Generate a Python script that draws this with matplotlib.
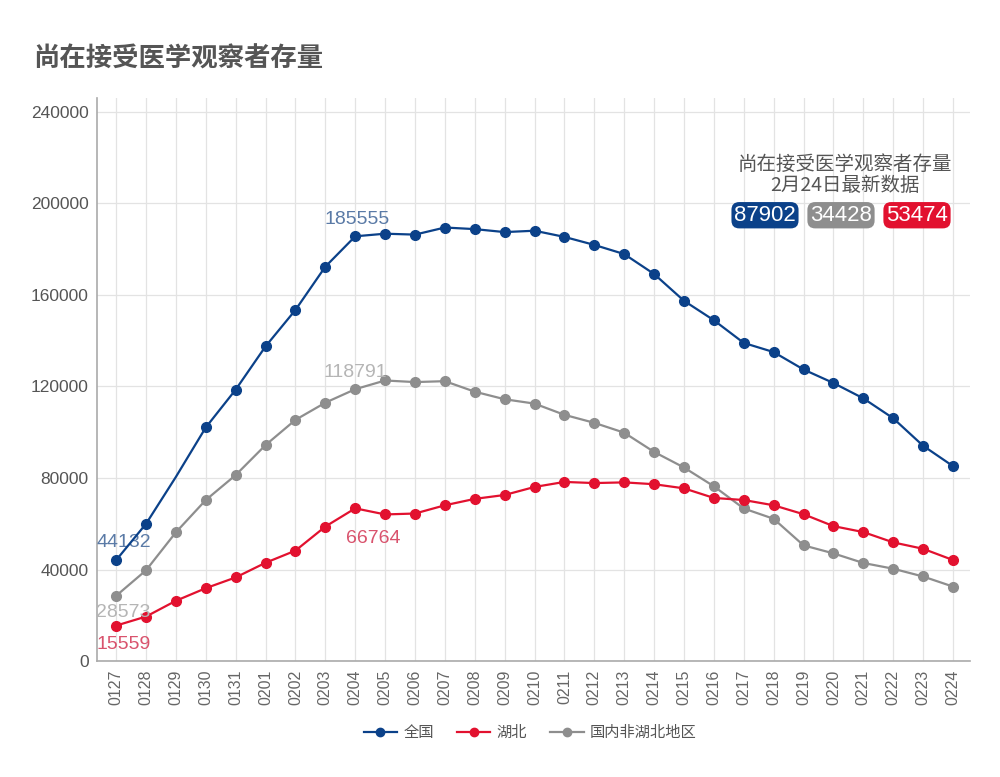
import matplotlib.pyplot as plt
from matplotlib.lines import Line2D

plt.rcParams['font.family'] = ['Noto Sans CJK SC', 'DejaVu Sans']
num_font = ['Liberation Sans', 'DejaVu Sans']

dates = ['0127', '0128', '0129', '0130', '0131', '0201', '0202', '0203', '0204', '0205',
         '0206', '0207', '0208', '0209', '0210', '0211', '0212', '0213', '0214', '0215',
         '0216', '0217', '0218', '0219', '0220', '0221', '0222', '0223', '0224']

quanguo = [44132, 60000, 80500, 102100, 118600, 137500, 153400, 172300, 185555, 186700,
           186300, 189400, 188700, 187400, 188000, 185300, 181800, 177800, 169100, 157400,
           148900, 139000, 135000, 127400, 121500, 114800, 106100, 94100, 85200]

hubei = [15559, 19500, 26400, 31900, 36600, 43000, 48300, 58800, 66764, 64100,
         64500, 68100, 70900, 72600, 76100, 78300, 77800, 78100, 77300, 75500,
         71300, 70400, 68100, 64200, 59000, 56400, 51900, 49100, 44200]

feihubei = [28573, 39700, 56300, 70400, 81300, 94400, 105400, 112900, 118791, 122600,
            121900, 122300, 117700, 114400, 112500, 107600, 104100, 99800, 91400, 84600,
            76400, 66700, 62200, 50600, 47100, 42900, 40400, 37000, 32600]

names = ['全国', '湖北', '国内非湖北地区']
latest = ['87902', '34428', '53474']

c_blue = '#0b4189'
c_red = '#e2112f'
c_gray = '#8e8e8e'

fig = plt.figure(figsize=(10, 7.77), dpi=100)
ax = fig.add_axes([0.097, 0.149, 0.873, 0.725])

x = list(range(len(dates)))
# 0129 has no marker on the national line
blue_marks = [i for i in x if i != 2]
ax.plot(x, quanguo, color=c_blue, lw=1.6, marker='o', ms=7, markevery=blue_marks, zorder=4)
ax.plot(x, hubei, color=c_red, lw=1.6, marker='o', ms=7, zorder=3)
ax.plot(x, feihubei, color=c_gray, lw=1.6, marker='o', ms=7, zorder=2)

ax.set_xlim(-0.64, 28.57)
ax.set_ylim(0, 246000)
ax.set_yticks(range(0, 240001, 40000))
ax.set_yticklabels([str(v) for v in range(0, 240001, 40000)], fontsize=12.5,
                   color='#555555', family=num_font)
ax.set_xticks(x)
ax.set_xticklabels(dates, rotation=90, fontsize=11.5, color='#666666', family=num_font)
ax.tick_params(length=0, pad=6)
ax.grid(True, color='#e3e3e3', lw=0.9)
ax.set_axisbelow(True)
for s in ['top', 'right']:
    ax.spines[s].set_visible(False)
for s in ['left', 'bottom']:
    ax.spines[s].set_color('#aaaaaa')
    ax.spines[s].set_linewidth(1.2)

# point labels
lbl = dict(fontsize=14, ha='center', family=num_font)
ax.text(0.25, quanguo[0] + 4000, '44132', color='#5a7aa6', va='bottom', **lbl)
ax.text(0.25, feihubei[0] - 3800, '28573', color='#b5b5b5', va='top', **lbl)
ax.text(0.25, hubei[0] - 4500, '15559', color='#d9536d', va='top', **lbl)
ax.text(8.05, quanguo[8] + 3800, '185555', color='#5a7aa6', va='bottom', **lbl)
ax.text(8.0, feihubei[8] + 3800, '118791', color='#b5b5b5', va='bottom', **lbl)
ax.text(8.6, hubei[8] - 9500, '66764', color='#d9536d', va='top', **lbl)

fig.text(0.033, 0.924, '尚在接受医学观察者存量', fontsize=19, fontweight='bold',
         color='#555555', va='center')

fig.text(0.845, 0.775, '尚在接受医学观察者存量\n2月24日最新数据', fontsize=14,
         color='#555555', ha='center', va='center', linespacing=0.98)
box_x = [0.765, 0.841, 0.917]
for bx, val, col in zip(box_x, latest, [c_blue, c_gray, c_red]):
    fig.text(bx, 0.723, val, fontsize=16, color='white', ha='center', va='center',
             family=num_font,
             bbox=dict(boxstyle='round,pad=0.12,rounding_size=0.35', fc=col, ec='none'))

handles = [Line2D([], [], color=c, lw=1.6, marker='o', ms=6) for c in [c_blue, c_red, c_gray]]
fig.legend(handles, names, loc='center', bbox_to_anchor=(0.53, 0.057), ncol=3,
           frameon=False, fontsize=11, handlelength=2.2, columnspacing=1.5,
           handletextpad=0.4, labelcolor='#555555')

fig.savefig('out.png', dpi=100)
